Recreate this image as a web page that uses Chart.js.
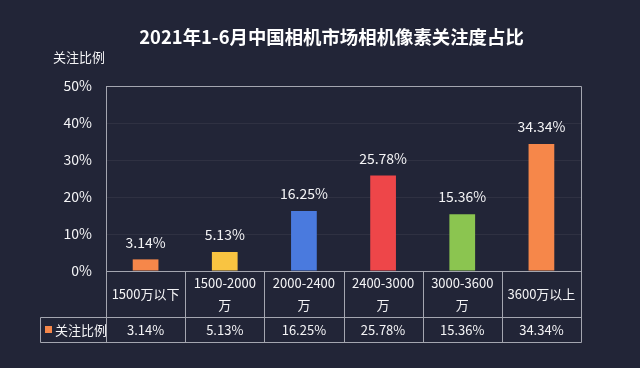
<!DOCTYPE html>
<html>
<head>
<meta charset="utf-8">
<script src="https://cdn.jsdelivr.net/npm/chart.js@4/dist/chart.umd.min.js"></script>
<style>
html,body{margin:0;padding:0;background:#222537;}
#wrap{width:640px;height:368px;}
</style>
</head>
<body>
<div id="wrap"><canvas id="c" width="640" height="368"></canvas></div>
<script>
const titleText = '2021年1-6月中国相机市场相机像素关注度占比';
const seriesName = '关注比例';
const categories = [['1500万以下'], ['1500-2000', '万'], ['2000-2400', '万'], ['2400-3000', '万'], ['3000-3600', '万'], ['3600万以上']];
const values = [3.14, 5.13, 16.25, 25.78, 15.36, 34.34];
const barColors = ['#F6874A', '#F9C441', '#4A7ADE', '#EE4649', '#8BC550', '#F6874A'];
const yTicks = [0, 10, 20, 30, 40, 50];

const FONT = '"Noto Sans CJK SC", "Noto Sans", sans-serif';
const LINE = '#A4A6B0';
const TEXT = '#F4F4F6';

const tablePlugin = {
  id: 'tablePlugin',
  beforeDraw(chart) {
    const ctx = chart.ctx;
    ctx.save();
    ctx.fillStyle = '#222537';
    ctx.fillRect(0, 0, chart.width, chart.height);
    ctx.restore();
  },
  afterDatasetsDraw(chart) {
    const ctx = chart.ctx;
    const meta = chart.getDatasetMeta(0);
    ctx.save();
    ctx.fillStyle = TEXT;
    ctx.font = '14px ' + FONT;
    ctx.textAlign = 'center';
    ctx.textBaseline = 'middle';
    meta.data.forEach((bar, i) => {
      ctx.fillText(values[i].toFixed(2) + '%', bar.x, bar.y - 17);
    });
    ctx.restore();
  },
  afterDraw(chart) {
    const ctx = chart.ctx;
    const a = chart.chartArea;
    const xs = chart.scales.x;
    const n = categories.length;
    const colW = (a.right - a.left) / n;
    const r1 = a.bottom, r2 = a.bottom + 46, r3 = a.bottom + 71;
    const legL = 40.5;
    ctx.save();
    // title
    ctx.fillStyle = '#FFFFFF';
    ctx.textAlign = 'center';
    ctx.textBaseline = 'middle';
    ctx.font = 'bold 18.4px ' + FONT;
    ctx.fillText(titleText, 331.5, 37.5);

    ctx.strokeStyle = LINE;
    ctx.lineWidth = 1;
    const px = v => Math.round(v) + 0.5;
    ctx.beginPath();
    // plot border top/right
    ctx.moveTo(px(a.left), px(a.top));
    ctx.lineTo(px(a.right), px(a.top));
    ctx.lineTo(px(a.right), px(r3));
    // table horizontals
    ctx.moveTo(px(a.left), px(r1)); ctx.lineTo(px(a.right), px(r1));
    ctx.moveTo(legL, px(r2)); ctx.lineTo(px(a.right), px(r2));
    ctx.moveTo(legL, px(r3)); ctx.lineTo(px(a.right), px(r3));
    // verticals
    for (let i = 0; i < n; i++) {
      const x = px(a.left + colW * i);
      ctx.moveTo(x, px(r1)); ctx.lineTo(x, px(r3));
    }
    ctx.moveTo(legL, px(r2)); ctx.lineTo(legL, px(r3));
    ctx.stroke();

    ctx.fillStyle = TEXT;
    ctx.textAlign = 'center';
    ctx.textBaseline = 'middle';
    ctx.font = '13px ' + FONT;
    categories.forEach((lines, i) => {
      const cx = xs.getPixelForValue(i);
      const mid = (r1 + r2) / 2;
      const lh = 21.6;
      lines.forEach((t, j) => {
        ctx.fillText(t, cx, mid + (j - (lines.length - 1) / 2) * lh);
      });
      ctx.fillText(values[i].toFixed(2) + '%', cx, (r2 + r3) / 2 + 0.5);
    });
    // legend cell
    ctx.fillStyle = barColors[0];
    ctx.fillRect(45, (r2 + r3) / 2 - 3.5, 7, 7);
    ctx.fillStyle = TEXT;
    ctx.textAlign = 'left';
    ctx.font = '13px ' + FONT;
    ctx.fillText(seriesName, 55, (r2 + r3) / 2 + 0.5);
    // y axis title
    ctx.fillText(seriesName, 53, 57);
    ctx.restore();
  }
};

new Chart(document.getElementById('c'), {
  type: 'bar',
  data: {
    labels: categories,
    datasets: [{
      label: seriesName,
      data: values,
      backgroundColor: barColors,
      borderWidth: 0,
      barPercentage: 0.325,
      categoryPercentage: 1
    }]
  },
  options: {
    responsive: false,
    animation: false,
    devicePixelRatio: 1,
    layout: { padding: { left: 0, right: 59, top: 86, bottom: 97 } },
    plugins: {
      legend: { display: false },
      tooltip: { enabled: false },
      title: { display: false, text: titleText }
    },
    scales: {
      x: { display: false, offset: true },
      y: {
        min: 0, max: 50,
        afterFit(s) { s.width = 106; },
        afterBuildTicks(s) { s.ticks = yTicks.map(v => ({ value: v })); },
        ticks: {
          color: TEXT,
          padding: 14,
          font: { family: FONT, size: 14 },
          callback: v => v + '%'
        },
        grid: { color: 'rgba(255,255,255,0.06)', drawTicks: false },
        border: { display: true, color: LINE, width: 1 }
      }
    }
  },
  plugins: [tablePlugin]
});
</script>
</body>
</html>
